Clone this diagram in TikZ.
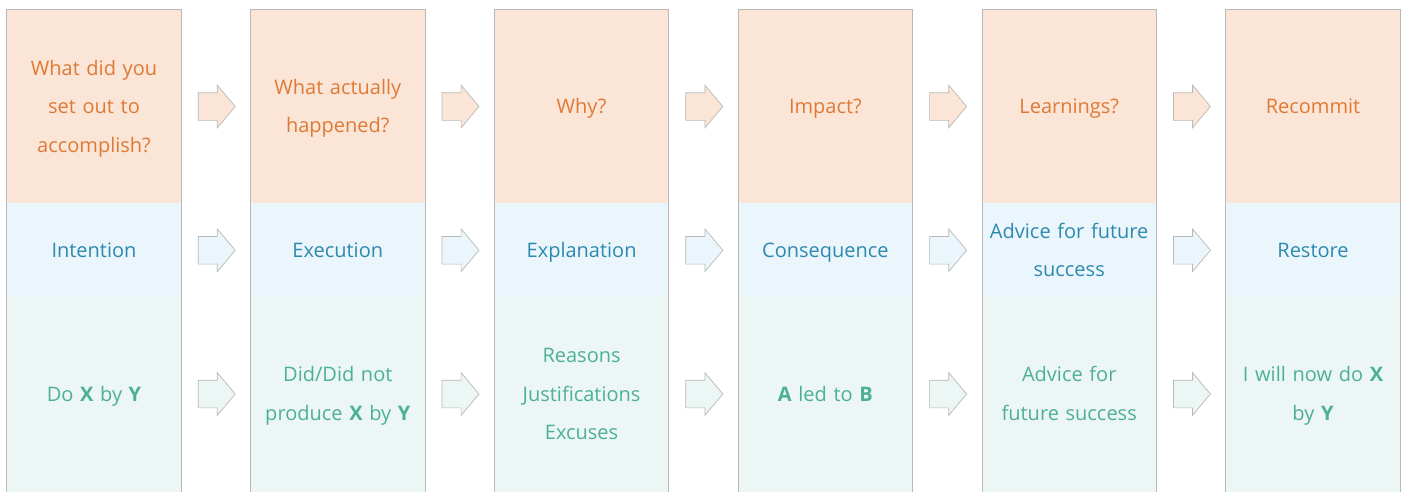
\documentclass[tikz,border=0pt]{standalone}
\usepackage{fontspec}
\setmainfont{Open Sans}
\usetikzlibrary{positioning,shapes.arrows}

\definecolor{peach}{HTML}{FBE5D6}
\definecolor{ice}{HTML}{EAF6FB}
\definecolor{mint}{HTML}{ECF6F4}
\definecolor{rust}{HTML}{DE7A36}
\definecolor{sea}{HTML}{2E89AE}
\definecolor{jade}{HTML}{4DB095}
\definecolor{edge}{HTML}{B8B8B8}

\begin{document}
\begin{tikzpicture}[x=1pt,y=1pt,node distance=143.75pt and 243.8pt,on grid,
font=\fontsize{20}{38.5}\selectfont,
% struts keep the capitals centred in every cell
cell/.style={inner sep=2pt,text width=170pt,align=center,minimum width=174pt,
    execute at begin node={\rule{0pt}{20.3pt}},execute at end node={\rule[-6pt]{0pt}{6pt}}},
ask/.style={cell,fill=peach,text=rust,minimum height=193pt},
word/.style={cell,fill=ice,text=sea,minimum height=94pt},
talk/.style={cell,fill=mint,text=jade,minimum height=196pt},
flow/.style={single arrow,draw=edge,line width=0.7pt,inner xsep=0pt,inner ysep=13.5pt,
    minimum height=37pt,minimum width=42pt,single arrow head extend=7.5pt,
    single arrow tip angle=100,single arrow head indent=0pt},
colline/.style={draw=edge,line width=0.8pt}
]
\useasboundingbox (0,0) rectangle (1407,-491);
\node[ask] (Goal) at (94,-106.5) {What did you\\set out to\\accomplish?};
\node[ask] (Happened) [right=of Goal] {What actually\\happened?};
\node[ask] (Why) [right=of Happened] {Why?};
\node[ask] (Impact) [right=of Why] {Impact?};
\node[ask] (Learn) [right=of Impact] {Learnings?};
\node[ask] (Recommit) [right=of Learn] {Recommit};

\node[word] (Intention) [below=of Goal] {Intention};
\node[word] (Execution) [below=of Happened] {Execution};
\node[word] (Explanation) [below=of Why] {Explanation};
\node[word] (Consequence) [below=of Impact] {Consequence};
\node[word] (Advice) [below=of Learn] {Advice for future\\success};
\node[word] (Restore) [below=of Recommit] {Restore};

\node[talk] (DoX) [below=of Intention] {Do \textbf{X} by \textbf{Y}};
\node[talk] (Did) [below=of Execution] {Did/Did not\\produce \textbf{X} by \textbf{Y}};
\node[talk] (Reasons) [below=of Explanation] {Reasons\\Justifications\\Excuses};
\node[talk] (Led) [below=of Consequence] {\textbf{A} led to \textbf{B}};
\node[talk] (Future) [below=of Advice] {Advice for\\future success};
\node[talk] (Now) [below=of Restore] {I will now do \textbf{X}\\by \textbf{Y}};

% column edges
\draw[colline] (DoX.south west) -- (Goal.north west) -- (Goal.north east) -- (DoX.south east);
\draw[colline] (Did.south west) -- (Happened.north west) -- (Happened.north east) -- (Did.south east);
\draw[colline] (Reasons.south west) -- (Why.north west) -- (Why.north east) -- (Reasons.south east);
\draw[colline] (Led.south west) -- (Impact.north west) -- (Impact.north east) -- (Led.south east);
\draw[colline] (Future.south west) -- (Learn.north west) -- (Learn.north east) -- (Future.south east);
\draw[colline] (Now.south west) -- (Recommit.north west) -- (Recommit.north east) -- (Now.south east);

% block arrows between the columns
\node[flow,fill=peach] (AskA) [right=116.9pt of Goal] {};
\node[flow,fill=peach] (AskB) [right=116.9pt of Happened] {};
\node[flow,fill=peach] (AskC) [right=116.9pt of Why] {};
\node[flow,fill=peach] (AskD) [right=116.9pt of Impact] {};
\node[flow,fill=peach] (AskE) [right=116.9pt of Learn] {};
\node[flow,fill=ice] (WordA) [right=116.9pt of Intention] {};
\node[flow,fill=ice] (WordB) [right=116.9pt of Execution] {};
\node[flow,fill=ice] (WordC) [right=116.9pt of Explanation] {};
\node[flow,fill=ice] (WordD) [right=116.9pt of Consequence] {};
\node[flow,fill=ice] (WordE) [right=116.9pt of Advice] {};
\node[flow,fill=mint] (TalkA) [right=116.9pt of DoX] {};
\node[flow,fill=mint] (TalkB) [right=116.9pt of Did] {};
\node[flow,fill=mint] (TalkC) [right=116.9pt of Reasons] {};
\node[flow,fill=mint] (TalkD) [right=116.9pt of Led] {};
\node[flow,fill=mint] (TalkE) [right=116.9pt of Future] {};
\end{tikzpicture}
\end{document}
